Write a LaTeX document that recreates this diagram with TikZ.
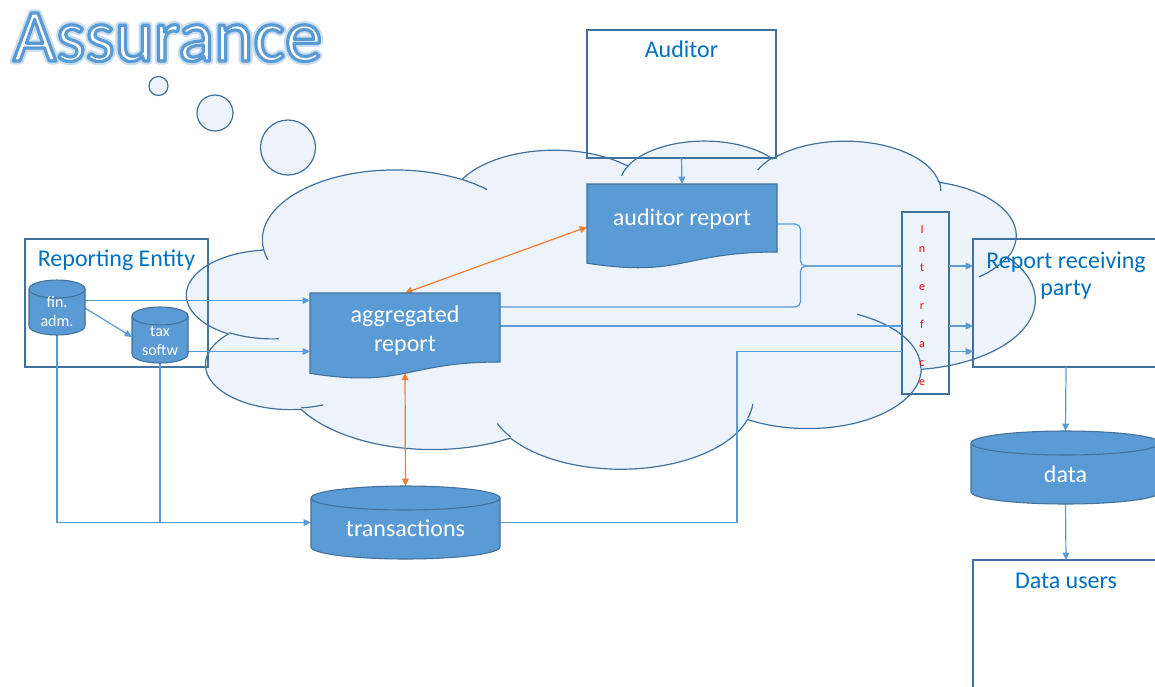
\documentclass[tikz,border=0pt]{standalone}
\usepackage{fontspec}
\setmainfont{Carlito}
\usetikzlibrary{calc,arrows.meta}
\definecolor{shapeblue}{HTML}{5B9BD5}
\definecolor{edgeblue}{HTML}{41719C}
\definecolor{cloudfill}{HTML}{ECF3FA}
\definecolor{textblue}{HTML}{0070C0}
\definecolor{linkorange}{HTML}{ED7D31}
\definecolor{glowblue}{HTML}{C9DDF1}

% can drawn round an empty node: node, x radius, y radius
\newcommand\canshape[3]{%
  \filldraw[shapepaint] ($(#1.north west)+(0,#3)$) -- ($(#1.south west)+(0,-#3)$)
    arc[start angle=180, end angle=0, x radius=#2, y radius=#3]
    -- ($(#1.north east)+(0,#3)$)
    arc[start angle=0, end angle=-180, x radius=#2, y radius=#3] -- cycle;
  \draw[shapepaint, fill=none] ($(#1.north west)+(0,#3)$)
    arc[start angle=180, end angle=0, x radius=#2, y radius=#3];
}
% document with wavy bottom below a text area node
\newcommand\docshape[1]{%
  \filldraw[shapepaint] (#1.north west) -- (#1.north east) -- (#1.south east)
    .. controls (#1.south) and ($(#1.north)!1.381!(#1.south)$)
    .. ($(#1.north west)!1.1646!(#1.south west)$) -- cycle;
}
% letters stroked round their outline: width, stroke colour (rgb), text
\newcommand\outlined[3]{%
  \special{pdf:literal direct 2 Tr #1 w 1 j #2 RG}#3%
  \special{pdf:literal direct 0 Tr}}

\begin{document}
\begin{tikzpicture}[
  x=0.75pt, y=-0.75pt,
  every node/.style={inner sep=0pt, outer sep=0pt},
  boxsize/.style 2 args={minimum width=#1*0.75pt, minimum height=#2*0.75pt},
  box/.style={rectangle, draw=edgeblue, line width=1pt},
  area/.style={rectangle},
  boxtitle/.style={text=textblue, align=center, font=\fontsize{18}{20}\selectfont},
  ifacetext/.style={text=red, align=center, font=\fontsize{9}{14.25}\selectfont},
  shapepaint/.style={fill=shapeblue, draw=edgeblue, line width=0.8pt},
  shapetext/.style={text=white, align=center},
  titletext/.style={anchor=base west, font=\fontsize{56}{56}\selectfont},
  bubble/.style={circle, draw=edgeblue, fill=cloudfill, line width=0.9pt},
  cloudpaint/.style={draw=edgeblue, line width=0.9pt},
  cloud arc/.style n args={4}{x radius=#1, y radius=#2,
    start angle={atan2(#1*sin(#3),#2*cos(#3))},
    delta angle={mod(atan2(#1*sin(#3+#4),#2*cos(#3+#4))-atan2(#1*sin(#3),#2*cos(#3))+720,360)}},
  conn/.style={draw=shapeblue, line width=0.9pt},
  arr/.style={conn, -{Triangle[length=5.5pt, width=5pt]}},
  biarr/.style={draw=linkorange, line width=0.9pt,
    {Triangle[length=5.5pt, width=5pt]}-{Triangle[length=5.5pt, width=5pt]}}
]
\useasboundingbox (0,0) rectangle (1155,686);

% Cloud with its thought bubbles
\node[bubble, minimum size=19*0.75pt] (bubble-s) at (158.5,86) {};
\node[bubble, minimum size=36*0.75pt] (bubble-m) at (215,113) {};
\node[bubble, minimum size=55*0.75pt] (bubble-l) at (288,147.5) {};
\begin{scope}[shift={(187,140)}, x=0.147222pt, y=-0.056944pt]
\filldraw[cloudpaint, fill=cloudfill] (390,1437)
  arc[cloud arc={675.3}{919.0}{-190.4875}{123.7805}]
  arc[cloud arc={533.3}{726.7}{-144.1024}{89.9452}]
  arc[cloud arc={436.5}{594.5}{-145.8079}{99.7230}]
  arc[cloud arc={485.7}{659.5}{-130.9861}{117.2417}]
  arc[cloud arc={533.3}{727.3}{-78.7089}{109.0269}]
  arc[cloud arc={677.5}{922.0}{-46.2673}{130.2690}]
  arc[cloud arc={578.5}{786.7}{0.6250}{114.0333}]
  arc[cloud arc={675.2}{921.5}{22.4516}{115.1726}]
  arc[cloud arc={772.0}{1054.3}{66.2426}{75.7110}]
  arc[cloud arc={436.0}{591.8}{-274.9421}{146.7356}]
  arc[cloud arc={434.5}{594.5}{-246.8285}{152.5189}] -- cycle;
\draw[cloudpaint]
  (469.3,2617.7) arc[cloud arc={434.5}{594.5}{86.7420}{26.4295}]
  (692.8,3489.9) arc[cloud arc={436.0}{591.8}{73.6105}{11.4475}]
  (1647.8,3909.0) arc[cloud arc={675.2}{921.5}{137.6242}{14.0811}]
  (2882.7,3475.1) arc[cloud arc={675.2}{921.5}{6.4533}{15.9984}]
  (3412.9,2295.4) arc[cloud arc={578.5}{786.7}{-70.2924}{70.9174}]
  (4179.8,1535.4) arc[cloud arc={533.3}{727.3}{30.3180}{27.7515}]
  (3832.4,542.6) arc[cloud arc={485.7}{659.5}{-13.7443}{14.8589}]
  (2907.8,395.2) arc[cloud arc={485.7}{659.5}{-149.1815}{18.1954}]
  (2214.1,472.0) arc[cloud arc={436.5}{594.5}{-163.4943}{17.6864}]
  (1400.0,519.2) arc[cloud arc={675.3}{919.0}{-66.7070}{12.3194}]
  (412.7,1578.9) arc[cloud arc={675.3}{919.0}{157.6544}{11.8582}];
\end{scope}

% Boxes
\node[box, boxsize={183}{128}] (repent) at (116.5,303) {};
\node[box, boxsize={189}{128}] (auditor) at (681.5,94) {};
\node[box, boxsize={186}{128}] (recv) at (1066,303) {};
\node[box, boxsize={186}{128}] (users) at (1066,624) {};
\node[box, boxsize={47}{182}] (iface) at (925.5,303) {};
\node[boxtitle, anchor=base] (repent-title) at (116.5,266.7) {Reporting Entity};
\node[boxtitle, anchor=base] (auditor-title) at (681.5,57.3) {Auditor};
\node[boxtitle] (recv-title) at (1066,276) {Report receiving\\party};
\node[boxtitle, anchor=base] (users-title) at (1066,588.3) {Data users};
\node[ifacetext] (iface-title) at (922,306) {I\\n\\t\\e\\r\\f\\a\\c\\e};

% Areas of the filled shapes
\node[area, boxsize={190}{69}] (aggr) at (405,327.5) {};
\node[area, boxsize={190}{68}] (audrep) at (682,218) {};
\node[area, boxsize={56}{55}] (fin) at (57,307.5) {};
\node[area, boxsize={56}{56}] (tax) at (160,335) {};
\node[area, boxsize={189}{73}] (trans) at (405.5,522.5) {};
\node[area, boxsize={189}{73}] (data) at (1065.5,467.5) {};

% Connectors
\coordinate (bracetip) at (800.5,266);
\coordinate (bend) at (737,351.5);
\draw[arr] (fin.east |- 0,300.5) -- (aggr.west |- 0,300.5);
\draw[arr] (fin.east |- 0,308) -- (tax.west |- 0,337);
\draw[arr] (tax.east |- 0,351.5) -- (aggr.west |- 0,351.5);
\draw[arr] (fin.south) |- (trans.west);
\draw[conn] (tax.south) -- (tax.south |- trans.west);
\draw[conn] (trans.east) -| (bend) -- (iface.west |- bend);
\draw[conn] (aggr.east |- 0,326) -- (iface.west |- 0,326);
\draw[conn, rounded corners=4pt] (audrep.east |- 0,224) -| (bracetip) -- (iface.west |- bracetip);
\draw[conn, rounded corners=4pt] (aggr.east |- 0,307) -| (bracetip) -- (iface.west |- bracetip);
\foreach \y in {266,326,351.5}
  \draw[arr] (iface.east |- 0,\y) -- (recv.west |- 0,\y);
\draw[arr] (auditor.south) -- (audrep.north);
\draw[arr] (recv.south) -- (data.north);
\draw[arr] (data.south) -- (users.north);
\draw[biarr] (aggr.north) -- (audrep.west |- 0,227);
\draw[biarr] ($(aggr.north)!1.1575!(aggr.south)$) -- (trans.north);

% Filled shapes and their texts
\docshape{aggr}
\docshape{audrep}
\canshape{fin}{28}{9}
\canshape{tax}{28}{9}
\canshape{trans}{94.5}{12}
\canshape{data}{94.5}{12}
\node[shapetext, font=\fontsize{18}{21.25}\selectfont] (aggr-text) at ($(aggr.center)+(0,3)$) {aggregated\\report};
\node[shapetext, anchor=base, font=\fontsize{18}{21.6}\selectfont] (audrep-text) at (682,225) {auditor report};
\node[shapetext, font=\fontsize{12}{14.5}\selectfont] (fin-text) at (57,311.3) {fin.\\adm.};
\node[shapetext, font=\fontsize{12}{14.5}\selectfont] (tax-text) at (160,340.7) {tax\\softw};
\node[shapetext, anchor=base, font=\fontsize{18}{21.6}\selectfont] (trans-text) at (405.5,536.7) {transactions};
\node[shapetext, anchor=base, font=\fontsize{18}{21.6}\selectfont] (data-text) at (1065.5,482.7) {data};

% Title: soft glow under a blue-edged white word
\node[titletext, text=glowblue] (title-glow) at (13,61) {\outlined{5.5}{0.788 0.867 0.945}{Assurance}};
\node[titletext, text=white] (title) at (13,61) {\outlined{2.4}{0.357 0.608 0.835}{Assurance}};

\end{tikzpicture}
\end{document}
